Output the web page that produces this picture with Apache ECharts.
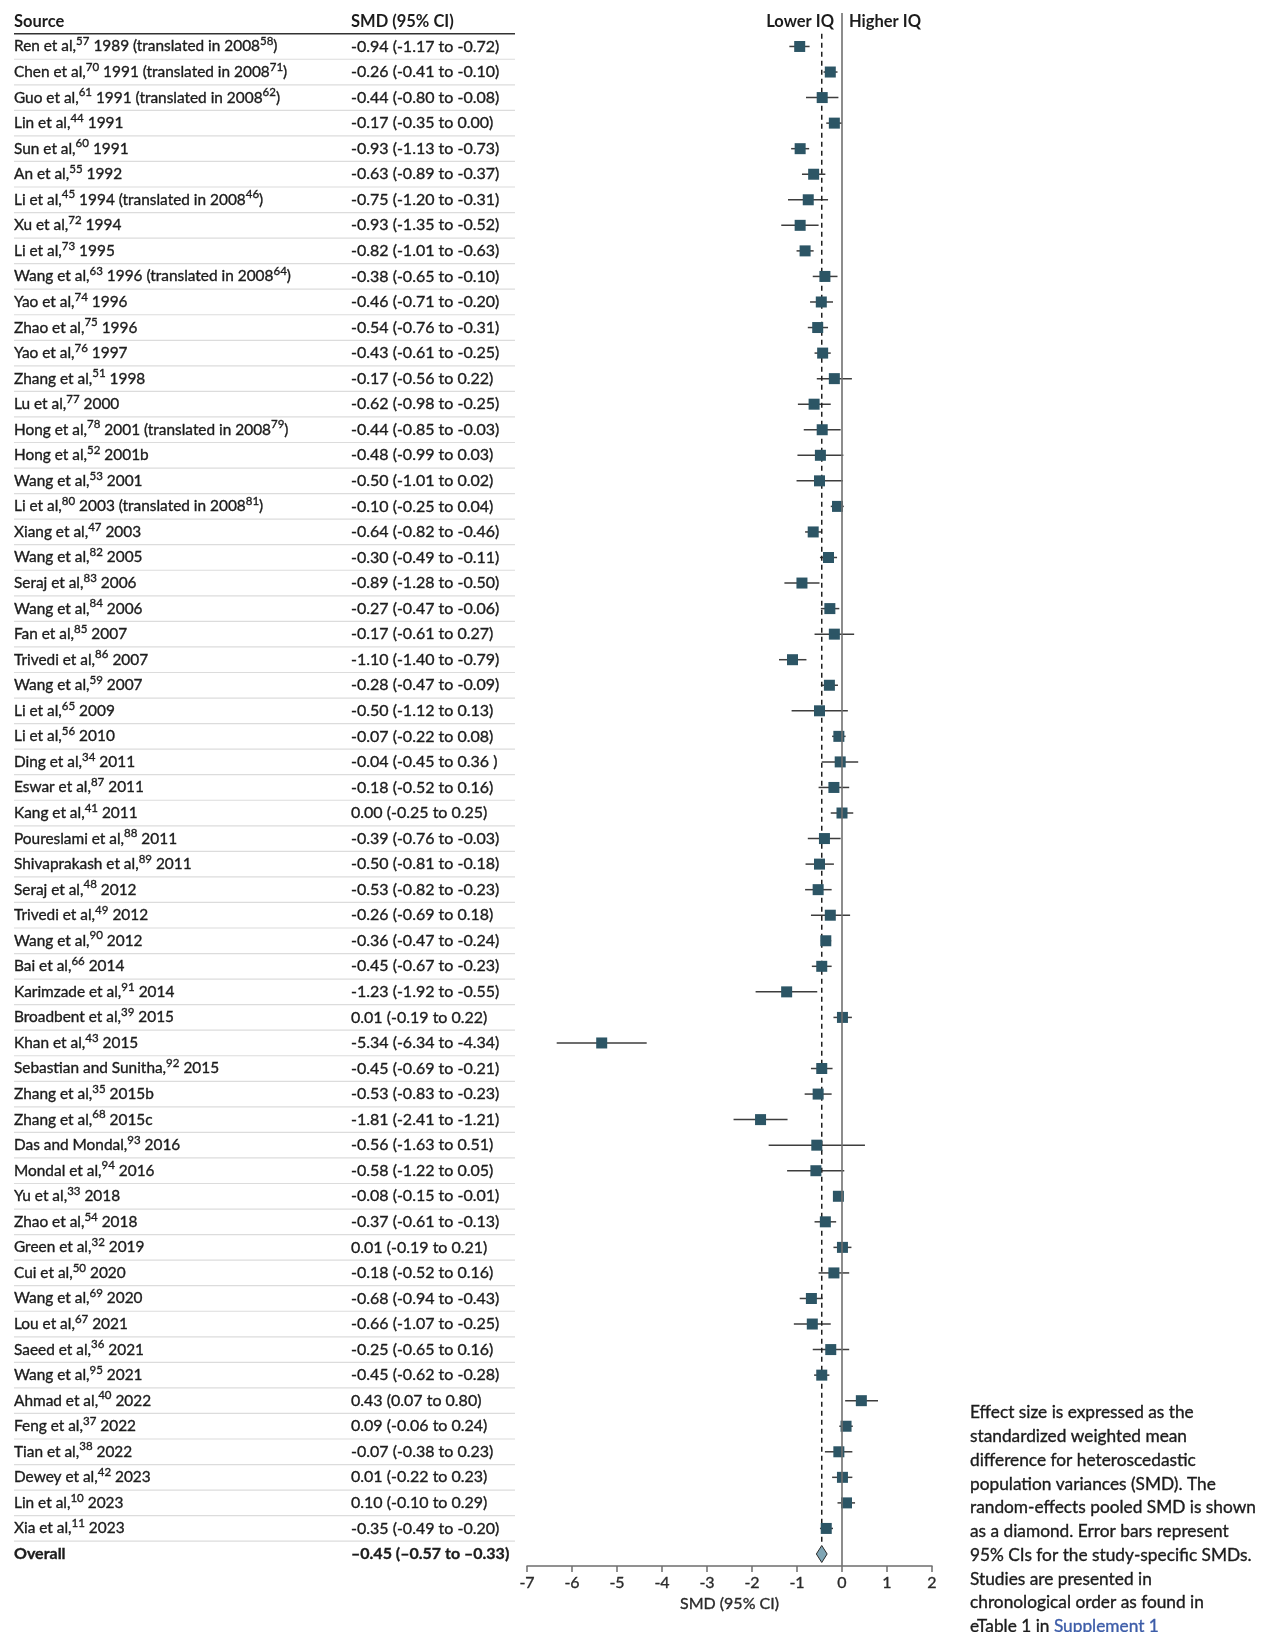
<!DOCTYPE html>
<html><head><meta charset="utf-8">
<script src="https://cdn.jsdelivr.net/npm/echarts@6/dist/echarts.min.js"></script>
<style>html,body{margin:0;padding:0;background:#fff}#c{width:1267px;height:1632px}</style>
</head><body><div id="c"></div>
<script>
// ---------- DATA ----------
const sources = [
  "Ren et al,{s|57} 1989 (translated in 2008{s|58})",
  "Chen et al,{s|70} 1991 (translated in 2008{s|71})",
  "Guo et al,{s|61} 1991 (translated in 2008{s|62})",
  "Lin et al,{s|44} 1991",
  "Sun et al,{s|60} 1991",
  "An et al,{s|55} 1992",
  "Li et al,{s|45} 1994 (translated in 2008{s|46})",
  "Xu et al,{s|72} 1994",
  "Li et al,{s|73} 1995",
  "Wang et al,{s|63} 1996 (translated in 2008{s|64})",
  "Yao et al,{s|74} 1996",
  "Zhao et al,{s|75} 1996",
  "Yao et al,{s|76} 1997",
  "Zhang et al,{s|51} 1998",
  "Lu et al,{s|77} 2000",
  "Hong et al,{s|78} 2001 (translated in 2008{s|79})",
  "Hong et al,{s|52} 2001b",
  "Wang et al,{s|53} 2001",
  "Li et al,{s|80} 2003 (translated in 2008{s|81})",
  "Xiang et al,{s|47} 2003",
  "Wang et al,{s|82} 2005",
  "Seraj et al,{s|83} 2006",
  "Wang et al,{s|84} 2006",
  "Fan et al,{s|85} 2007",
  "Trivedi et al,{s|86} 2007",
  "Wang et al,{s|59} 2007",
  "Li et al,{s|65} 2009",
  "Li et al,{s|56} 2010",
  "Ding et al,{s|34} 2011",
  "Eswar et al,{s|87} 2011",
  "Kang et al,{s|41} 2011",
  "Poureslami et al,{s|88} 2011",
  "Shivaprakash et al,{s|89} 2011",
  "Seraj et al,{s|48} 2012",
  "Trivedi et al,{s|49} 2012",
  "Wang et al,{s|90} 2012",
  "Bai et al,{s|66} 2014",
  "Karimzade et al,{s|91} 2014",
  "Broadbent et al,{s|39} 2015",
  "Khan et al,{s|43} 2015",
  "Sebastian and Sunitha,{s|92} 2015",
  "Zhang et al,{s|35} 2015b",
  "Zhang et al,{s|68} 2015c",
  "Das and Mondal,{s|93} 2016",
  "Mondal et al,{s|94} 2016",
  "Yu et al,{s|33} 2018",
  "Zhao et al,{s|54} 2018",
  "Green et al,{s|32} 2019",
  "Cui et al,{s|50} 2020",
  "Wang et al,{s|69} 2020",
  "Lou et al,{s|67} 2021",
  "Saeed et al,{s|36} 2021",
  "Wang et al,{s|95} 2021",
  "Ahmad et al,{s|40} 2022",
  "Feng et al,{s|37} 2022",
  "Tian et al,{s|38} 2022",
  "Dewey et al,{s|42} 2023",
  "Lin et al,{s|10} 2023",
  "Xia et al,{s|11} 2023"
];
const smd   = [-0.94,-0.26,-0.44,-0.17,-0.93,-0.63,-0.75,-0.93,-0.82,-0.38,-0.46,-0.54,-0.43,-0.17,-0.62,-0.44,-0.48,-0.50,-0.10,-0.64,-0.30,-0.89,-0.27,-0.17,-1.10,-0.28,-0.50,-0.07,-0.04,-0.18,0.00,-0.39,-0.50,-0.53,-0.26,-0.36,-0.45,-1.23,0.01,-5.34,-0.45,-0.53,-1.81,-0.56,-0.58,-0.08,-0.37,0.01,-0.18,-0.68,-0.66,-0.25,-0.45,0.43,0.09,-0.07,0.01,0.10,-0.35];
const lower = [-1.17,-0.41,-0.80,-0.35,-1.13,-0.89,-1.20,-1.35,-1.01,-0.65,-0.71,-0.76,-0.61,-0.56,-0.98,-0.85,-0.99,-1.01,-0.25,-0.82,-0.49,-1.28,-0.47,-0.61,-1.40,-0.47,-1.12,-0.22,-0.45,-0.52,-0.25,-0.76,-0.81,-0.82,-0.69,-0.47,-0.67,-1.92,-0.19,-6.34,-0.69,-0.83,-2.41,-1.63,-1.22,-0.15,-0.61,-0.19,-0.52,-0.94,-1.07,-0.65,-0.62,0.07,-0.06,-0.38,-0.22,-0.10,-0.49];
const upper = [-0.72,-0.10,-0.08,0.00,-0.73,-0.37,-0.31,-0.52,-0.63,-0.10,-0.20,-0.31,-0.25,0.22,-0.25,-0.03,0.03,0.02,0.04,-0.46,-0.11,-0.50,-0.06,0.27,-0.79,-0.09,0.13,0.08,0.36,0.16,0.25,-0.03,-0.18,-0.23,0.18,-0.24,-0.23,-0.55,0.22,-4.34,-0.21,-0.23,-1.21,0.51,0.05,-0.01,-0.13,0.21,0.16,-0.43,-0.25,0.16,-0.28,0.80,0.24,0.23,0.23,0.29,-0.20];
const ciLabels = [
  "-0.94 (-1.17 to -0.72)","-0.26 (-0.41 to -0.10)","-0.44 (-0.80 to -0.08)","-0.17 (-0.35 to 0.00)",
  "-0.93 (-1.13 to -0.73)","-0.63 (-0.89 to -0.37)","-0.75 (-1.20 to -0.31)","-0.93 (-1.35 to -0.52)",
  "-0.82 (-1.01 to -0.63)","-0.38 (-0.65 to -0.10)","-0.46 (-0.71 to -0.20)","-0.54 (-0.76 to -0.31)",
  "-0.43 (-0.61 to -0.25)","-0.17 (-0.56 to 0.22)","-0.62 (-0.98 to -0.25)","-0.44 (-0.85 to -0.03)",
  "-0.48 (-0.99 to 0.03)","-0.50 (-1.01 to 0.02)","-0.10 (-0.25 to 0.04)","-0.64 (-0.82 to -0.46)",
  "-0.30 (-0.49 to -0.11)","-0.89 (-1.28 to -0.50)","-0.27 (-0.47 to -0.06)","-0.17 (-0.61 to 0.27)",
  "-1.10 (-1.40 to -0.79)","-0.28 (-0.47 to -0.09)","-0.50 (-1.12 to 0.13)","-0.07 (-0.22 to 0.08)",
  "-0.04 (-0.45 to 0.36 )","-0.18 (-0.52 to 0.16)","0.00 (-0.25 to 0.25)","-0.39 (-0.76 to -0.03)",
  "-0.50 (-0.81 to -0.18)","-0.53 (-0.82 to -0.23)","-0.26 (-0.69 to 0.18)","-0.36 (-0.47 to -0.24)",
  "-0.45 (-0.67 to -0.23)","-1.23 (-1.92 to -0.55)","0.01 (-0.19 to 0.22)","-5.34 (-6.34 to -4.34)",
  "-0.45 (-0.69 to -0.21)","-0.53 (-0.83 to -0.23)","-1.81 (-2.41 to -1.21)","-0.56 (-1.63 to 0.51)",
  "-0.58 (-1.22 to 0.05)","-0.08 (-0.15 to -0.01)","-0.37 (-0.61 to -0.13)","0.01 (-0.19 to 0.21)",
  "-0.18 (-0.52 to 0.16)","-0.68 (-0.94 to -0.43)","-0.66 (-1.07 to -0.25)","-0.25 (-0.65 to 0.16)",
  "-0.45 (-0.62 to -0.28)","0.43 (0.07 to 0.80)","0.09 (-0.06 to 0.24)","-0.07 (-0.38 to 0.23)",
  "0.01 (-0.22 to 0.23)","0.10 (-0.10 to 0.29)","-0.35 (-0.49 to -0.20)"
];
const overallLabel = "Overall";
const overallCI = "\u20130.45 (\u20130.57 to \u20130.33)";
const overallEst = -0.45, overallLo = -0.57, overallHi = -0.33;
const headers = ["Source", "SMD (95% CI)"];
const directionLabels = ["Lower IQ", "Higher IQ"];
const axisTitle = "SMD (95% CI)";
const footnoteLines = [
  "Effect size is expressed as the",
  "standardized weighted mean",
  "difference for heteroscedastic",
  "population variances (SMD). The",
  "random-effects pooled SMD is shown",
  "as a diamond. Error bars represent",
  "95% CIs for the study-specific SMDs.",
  "Studies are presented in",
  "chronological order as found in",
  "eTable 1 in {link|Supplement 1}"
];

// ---------- CHART ----------
const FONT = 'Lato';
const TXT = '#1c1c1c';
const SW = 0.35; // slight stroke to thicken glyphs
const n = sources.length;
const overallRow = n;
const allLabels = sources.concat([overallLabel]);
const allCI = ciLabels.concat([overallCI]);

const chart = echarts.init(document.getElementById('c'), null, {renderer: 'canvas'});

const tableData = allLabels.map((s, i) => [0, i]);
const ciData = lower.map((lo, i) => [lo, upper[i], i]);
const pointData = smd.map((v, i) => [v, i]);

function hdr(x, y, text, align) {
  return {type: 'text', x: x, y: y, style: {text: text, fontFamily: FONT, fontSize: 16.5, fontWeight: 'bold', fill: TXT, align: align, verticalAlign: 'middle'}};
}

chart.setOption({
  animation: false,
  backgroundColor: '#fff',
  grid: {left: 527, right: 335, top: 13, bottom: 66, containLabel: false},
  xAxis: {
    type: 'value', min: -7, max: 2, interval: 1,
    axisLine: {show: true, onZero: false, lineStyle: {color: '#6e6e6e', width: 1.5}},
    axisTick: {show: true, length: 6, lineStyle: {color: '#6e6e6e', width: 1.5}},
    axisLabel: {color: '#2a2a2a', fontSize: 16, fontFamily: FONT, margin: 9, textBorderColor: '#2a2a2a', textBorderWidth: SW},
    splitLine: {show: false},
    name: axisTitle, nameLocation: 'middle', nameGap: 29,
    nameTextStyle: {color: '#2a2a2a', fontSize: 16, fontFamily: FONT, textBorderColor: '#2a2a2a', textBorderWidth: SW}
  },
  yAxis: {type: 'value', inverse: true, min: -1.31, max: 59.47, show: false},
  graphic: [
    hdr(14, 22, headers[0], 'left'),
    hdr(351, 22, headers[1], 'left'),
    hdr(834, 22, directionLabels[0], 'right'),
    hdr(849, 22, directionLabels[1], 'left'),
    {type: 'text', x: 970, y: 1401, style: {
      text: footnoteLines.join('\n'), fontFamily: FONT, fontSize: 17.3, lineHeight: 23.75, fill: TXT,
      stroke: TXT, lineWidth: SW,
      verticalAlign: 'top', align: 'left',
      rich: {link: {fill: '#3c5ca8', stroke: '#3c5ca8', lineWidth: SW, fontFamily: FONT, fontSize: 17.3, lineHeight: 23.75}}
    }}
  ],
  series: [
    { // table text + separators
      type: 'custom', silent: true, clip: false, z: 1,
      data: tableData, encode: {x: 0, y: 1},
      renderItem: function (params, api) {
        const i = api.value(1);
        const y = api.coord([0, i])[1];
        const isOverall = i === overallRow;
        const w = isOverall ? 'bold' : 'normal';
        const children = [
          {type: 'text', x: 14, y: y, style: {
            text: allLabels[i], fontFamily: FONT, fontSize: isOverall ? 16 : 15.4, fontWeight: w, lineHeight: 22, fill: TXT,
            stroke: TXT, lineWidth: SW,
            align: 'left', verticalAlign: 'middle',
            rich: {s: {fontFamily: FONT, fontSize: 11.5, lineHeight: 15, verticalAlign: 'top', fill: TXT, stroke: TXT, lineWidth: SW}}
          }},
          {type: 'text', x: 351, y: y, style: {
            text: allCI[i], fontFamily: FONT, fontSize: 16, fontWeight: w, fill: TXT,
            stroke: TXT, lineWidth: SW,
            align: 'left', verticalAlign: 'middle'
          }}
        ];
        if (i === 0) {
          const yh = api.coord([0, i - 0.5])[1];
          children.push({type: 'line', shape: {x1: 14, y1: yh, x2: 515, y2: yh}, style: {stroke: '#333', lineWidth: 1.5}});
        }
        if (!isOverall) {
          const ys = api.coord([0, i + 0.5])[1];
          children.push({type: 'line', shape: {x1: 14, y1: ys, x2: 515, y2: ys}, style: {stroke: '#dcdcdc', lineWidth: 1.2}});
        }
        return {type: 'group', children: children};
      }
    },
    { // confidence intervals
      type: 'custom', silent: true, z: 2,
      data: ciData, encode: {x: [0, 1], y: 2},
      renderItem: function (params, api) {
        const a = api.coord([api.value(0), api.value(2)]);
        const b = api.coord([api.value(1), api.value(2)]);
        return {type: 'line', shape: {x1: a[0], y1: a[1], x2: b[0], y2: b[1]}, style: {stroke: '#3d3d3d', lineWidth: 1.5}};
      }
    },
    { // dashed overall line + diamond
      type: 'custom', silent: true, z: 3,
      data: [[overallLo, overallEst, overallHi, overallRow]], encode: {x: [0, 1, 2], y: 3},
      renderItem: function (params, api) {
        const lo = api.coord([api.value(0), api.value(3)]);
        const c = api.coord([api.value(1), api.value(3)]);
        const hi = api.coord([api.value(2), api.value(3)]);
        const top = api.coord([api.value(1), -0.5]);
        const h = 8.5;
        return {type: 'group', children: [
          {type: 'line', shape: {x1: c[0], y1: top[1], x2: c[0], y2: c[1] - h}, style: {stroke: '#1e1e1e', lineWidth: 1.5, lineDash: [5, 4]}},
          {type: 'polygon', shape: {points: [[lo[0], lo[1]], [c[0], c[1] - h], [hi[0], hi[1]], [c[0], c[1] + h]]},
           style: {fill: '#7fa5b4', stroke: '#2a2a2a', lineWidth: 1}}
        ]};
      }
    },
    { // point estimates
      type: 'scatter', z: 4, silent: true,
      symbol: 'rect', symbolSize: 11,
      itemStyle: {color: '#2c5565', opacity: 1},
      data: pointData,
      markLine: {
        silent: true, symbol: ['none', 'none'], animation: false,
        label: {show: false},
        lineStyle: {color: '#707070', width: 1.6, type: 'solid'},
        data: [{xAxis: 0}]
      }
    }
  ]
});
</script>
</body></html>
